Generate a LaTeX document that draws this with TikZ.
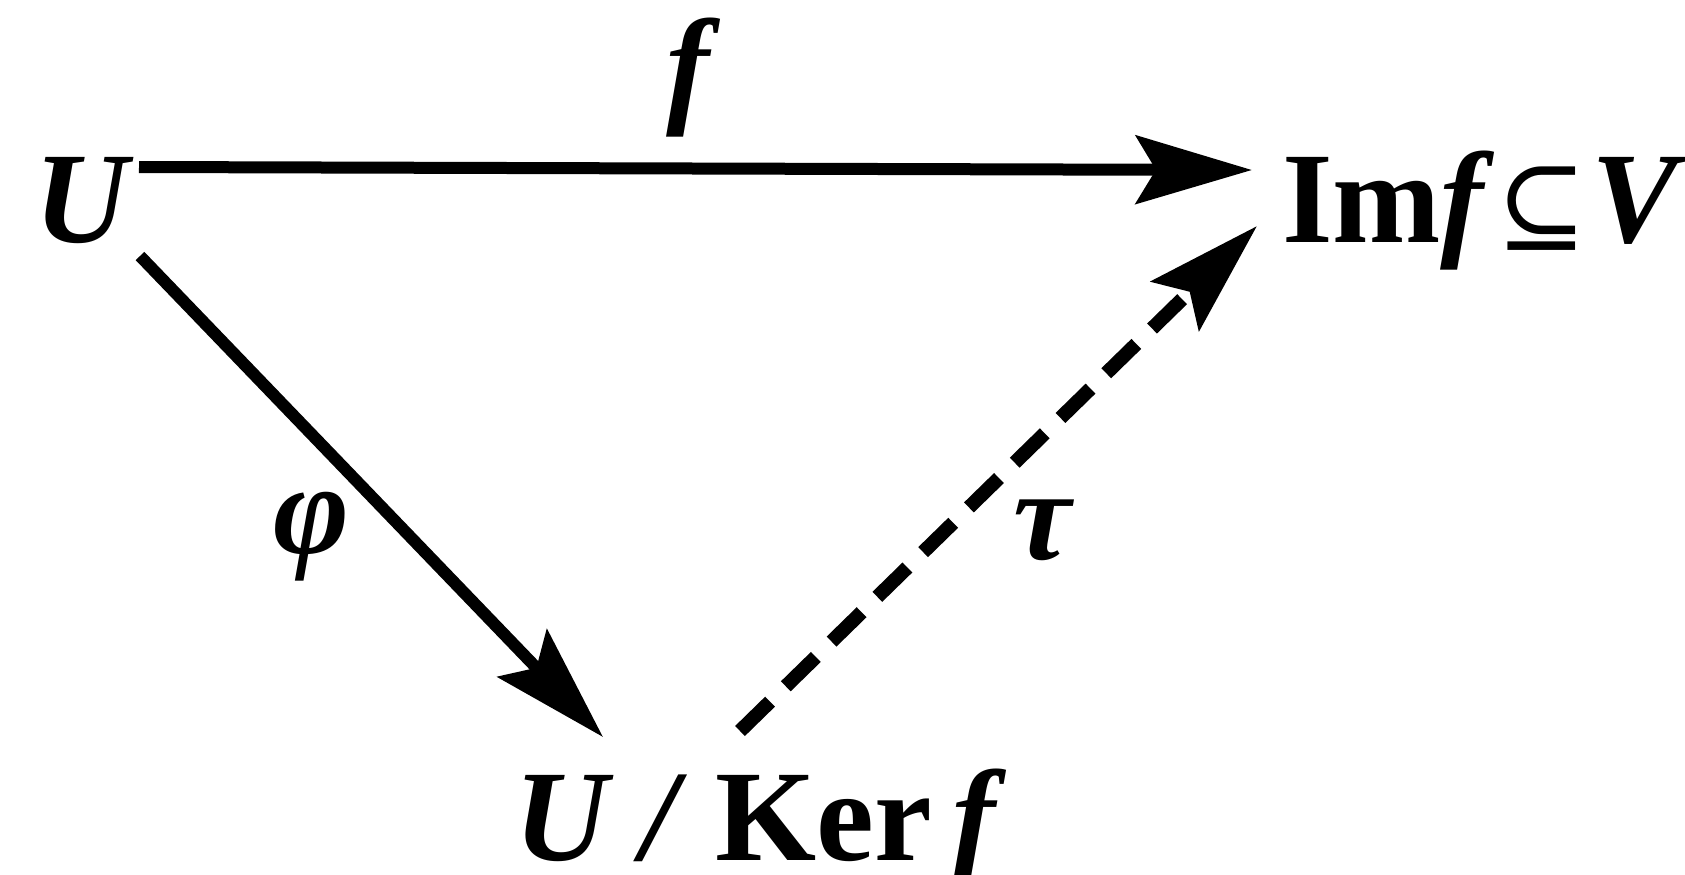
\documentclass[tikz,border=0pt]{standalone}
\usepackage{fontspec}
\setmainfont{Liberation Serif}
\newfontfamily\symfont{DejaVu Serif}
\usetikzlibrary{arrows.meta,calc}
\begin{document}
\begin{tikzpicture}[x=0.5pt,y=-0.5pt,
  lab/.style={inner sep=0pt,outer sep=0pt,font=\fontsize{65}{72}\selectfont\bfseries},
  arr/.style={line width=6pt,-{Stealth[length=58pt,width=34pt,inset=10pt]}},
  dsh/.style={line width=7pt,dash pattern=on 21pt off 11pt,-{Stealth[length=57pt,width=34pt,inset=10pt]}}]
\useasboundingbox (0,0) rectangle (1685,874);
\node[lab,anchor=base west] (U) at (34,242) {\itshape U};
\node[lab,anchor=base west] (Im) at (1282,242) {Im\kern0pt\textit{f}\kern1pt{\mdseries\symfont\fontsize{54}{60}\selectfont ⊆}\kern2pt\textit{V}};
\node[lab,anchor=base west] (Q) at (514,860) {\textit{U}\kern14pt\textit{/}\kern14pt Ker\kern10pt\textit{f}};
\node[lab] (lf) at (688,78) {\itshape f};
\node[lab] (lphi) at (312,537) {\itshape φ};
\node[lab] (ltau) at (1042,530) {\itshape τ};
\draw[arr] ([shift={(105,-75)}]U.base west) -- ([shift={(-30,-72)}]Im.base west);
\draw[arr] ([shift={(106,14)}]U.base west) -- ([shift={(89,-123)}]Q.base west);
\draw[dsh] ([shift={(226,-129)}]Q.base west) -- ([shift={(-25,-16)}]Im.base west);
\end{tikzpicture}
\end{document}
